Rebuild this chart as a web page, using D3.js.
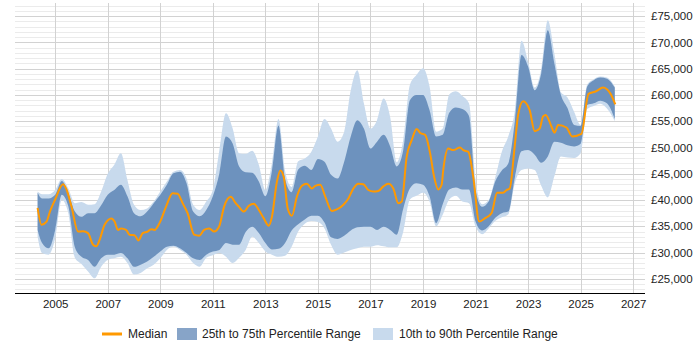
<!DOCTYPE html>
<head>
  <meta charset="UTF-8" />
  <script src="https://d3js.org/d3.v7.min.js"></script>
  <style>
    body {
      margin: 0;
      background: #fff;
    }
    text {
      font-family: "Liberation Sans", Arial, sans-serif;
      fill: #222;
    }
  </style>
</head>

<body>
  <script>
    var width = 700,
      height = 350;

    // band dates (decimal years), values in £k
    var bandYears = [
      2004.33, 2004.5, 2004.75, 2005, 2005.25, 2005.5, 2005.75, 2006, 2006.25, 2006.5, 2006.75,
      2007, 2007.25, 2007.5, 2007.75, 2008, 2008.25, 2008.5, 2008.75, 2009, 2009.25, 2009.5, 2009.75,
      2010, 2010.25, 2010.5, 2010.75, 2011, 2011.25, 2011.5, 2011.75, 2012, 2012.25, 2012.5, 2012.75,
      2013, 2013.25, 2013.5, 2013.75, 2014, 2014.25, 2014.5, 2014.75, 2015, 2015.25, 2015.5, 2015.75,
      2016, 2016.25, 2016.5, 2016.75, 2017, 2017.25, 2017.5, 2017.75, 2018, 2018.25, 2018.5, 2018.75,
      2019, 2019.25, 2019.5, 2019.75, 2020, 2020.25, 2020.5, 2020.75, 2021, 2021.25, 2021.5, 2021.75,
      2022, 2022.25, 2022.5, 2022.75, 2023, 2023.25, 2023.5, 2023.75, 2024, 2024.25, 2024.5, 2024.75,
      2025, 2025.25, 2025.5, 2025.75, 2026, 2026.3
    ];
    var p10 = [
      33.0, 29.9, 29.6, 32.7, 40.0, 37.5, 29.0, 27.8, 26.4, 25.1, 27.3,
      28.6, 28.9, 29.2, 28.0, 25.8, 26.1, 27.0, 27.7, 28.9, 30.5, 31.1, 30.5,
      29.6, 28.0, 27.3, 29.0, 29.5, 29.9, 29.2, 28.0, 29.0, 30.5, 33.0, 31.8,
      30.2, 29.6, 29.2, 29.4, 31.1, 34.0, 35.5, 36.0, 35.8, 34.6, 31.5, 29.6,
      30.0, 30.5, 30.8, 31.1, 31.1, 31.4, 31.2, 31.0, 31.0, 34.0, 40.1, 40.8,
      41.4, 39.7, 35.0, 37.2, 40.1, 40.8, 39.7, 39.4, 35.0, 33.5, 34.6, 36.0,
      36.7, 37.3, 43.3, 45.7, 46.0, 45.7, 42.7, 40.5, 44.5, 48.3, 48.1, 48.0,
      48.9, 57.3, 57.9, 58.3, 57.4, 55.0
    ];
    var p25 = [
      34.3, 31.8, 30.8, 34.3, 41.0, 38.8, 31.0, 29.2, 28.6, 27.3, 28.9,
      29.6, 29.6, 29.9, 28.9, 27.3, 27.7, 28.3, 29.2, 30.2, 31.1, 31.3, 30.8,
      29.9, 28.9, 28.6, 29.6, 30.2, 30.5, 31.8, 31.5, 31.5, 33.9, 34.9, 33.7,
      31.8, 30.6, 30.7, 31.8, 34.2, 35.4, 36.3, 37.0, 37.0, 35.7, 32.9, 32.6,
      33.2, 34.2, 34.8, 34.9, 34.9, 34.3, 34.9, 34.3, 33.4, 38.4, 42.2, 43.2,
      42.9, 40.7, 35.6, 39.2, 42.0, 42.4, 42.0, 42.0, 35.9, 34.2, 35.0, 36.6,
      37.5, 37.8, 44.4, 49.3, 49.5, 48.6, 47.1, 48.3, 51.1, 50.9, 50.4, 50.2,
      50.7, 58.1, 58.4, 58.9, 58.4, 55.4
    ];
    var p75 = [
      41.4, 40.3, 40.3, 41.0, 43.6, 41.3, 37.8, 36.8, 37.5, 37.5, 39.0,
      41.0, 41.9, 42.9, 40.7, 37.5, 36.9, 37.8, 39.4, 41.0, 42.9, 45.1, 45.4,
      43.2, 37.8, 36.9, 38.1, 40.7, 45.1, 52.1, 50.8, 46.4, 45.3, 45.2, 43.5,
      40.7, 45.5, 54.2, 44.0, 41.5, 45.8, 46.5, 45.7, 47.8, 47.3, 44.8, 44.1,
      47.3, 52.1, 55.2, 53.6, 49.8, 51.1, 52.4, 50.2, 46.4, 49.5, 59.0, 60.0,
      60.0, 57.1, 52.1, 52.4, 56.6, 57.6, 57.3, 56.0, 41.9, 38.7, 39.7, 43.5,
      45.6, 47.0, 55.2, 67.6, 65.4, 60.9, 64.1, 72.3, 66.0, 60.0, 57.5, 54.3,
      54.1, 61.6, 62.8, 63.3, 63.1, 61.4
    ];
    var p90 = [
      41.6, 41.1, 41.1, 41.9, 44.0, 42.2, 39.4, 39.6, 39.1, 39.2, 41.6,
      45.0, 46.7, 48.9, 43.8, 39.1, 38.1, 38.4, 39.7, 41.6, 43.5, 45.4, 45.7,
      44.1, 39.1, 38.1, 39.7, 41.9, 49.5, 56.5, 53.7, 48.9, 48.8, 49.4, 46.7,
      41.9, 47.0, 55.4, 45.5, 42.5, 47.4, 47.9, 49.2, 52.1, 55.4, 53.6, 51.1,
      53.0, 60.9, 64.7, 58.4, 53.6, 55.2, 59.3, 55.8, 47.2, 51.5, 61.9, 63.8,
      65.1, 61.6, 53.0, 53.6, 60.1, 60.7, 59.8, 58.4, 43.8, 39.2, 40.0, 44.3,
      49.2, 52.2, 57.1, 70.3, 66.3, 61.4, 64.9, 74.2, 67.9, 60.5, 59.5, 56.8,
      54.3, 62.0, 63.0, 63.5, 63.3, 61.6
    ];

    // median line, own dates
    var medianYears = [
      2004.33, 2004.48, 2004.67, 2004.8, 2004.99, 2005.3, 2005.43, 2005.62, 2005.87, 2006.06,
      2006.25, 2006.44, 2006.57, 2006.69, 2006.88, 2007.14, 2007.26, 2007.39, 2007.51, 2007.7,
      2007.83, 2008.02, 2008.17, 2008.33, 2008.52, 2008.65, 2008.78, 2008.97, 2009.22, 2009.47,
      2009.66, 2009.85, 2010.04, 2010.29, 2010.48, 2010.67, 2010.86, 2011.05, 2011.24, 2011.43,
      2011.68, 2011.87, 2011.99, 2012.18, 2012.37, 2012.56, 2012.75, 2012.94, 2013.13, 2013.25,
      2013.44, 2013.57, 2013.7, 2013.85, 2014.01, 2014.2, 2014.39, 2014.58, 2014.77, 2014.9,
      2015.09, 2015.28, 2015.53, 2015.72, 2015.97, 2016.16, 2016.35, 2016.54, 2016.73, 2016.92,
      2017.11, 2017.3, 2017.49, 2017.68, 2017.87, 2018.06, 2018.19, 2018.38, 2018.57, 2018.76,
      2018.91, 2019.08, 2019.27, 2019.42, 2019.58, 2019.71, 2019.77, 2019.96, 2020.15, 2020.41,
      2020.53, 2020.72, 2020.91, 2021.14, 2021.35, 2021.61, 2021.82, 2022.05, 2022.18, 2022.3,
      2022.49, 2022.62, 2022.81, 2023.06, 2023.25, 2023.44, 2023.57, 2023.67, 2023.89, 2024.01,
      2024.14, 2024.46, 2024.68, 2025.03, 2025.3, 2025.59, 2025.85, 2026.14, 2026.32
    ];
    var median = [
      38.5, 35.3, 35.9, 37.8, 40.0, 43.0, 42.0, 38.75, 34.0, 34.05,
      33.7, 31.5, 31.2, 32.4, 35.3, 36.5, 35.9, 34.3, 34.6, 34.3,
      33.4, 33.3, 32.3, 33.7, 34.0, 34.45, 34.3, 35.6, 38.75, 41.3,
      41.2, 39.4, 37.5, 33.4, 33.2, 34.3, 34.6, 34.0, 34.95, 38.75,
      40.6, 39.4, 38.75, 37.8, 38.9, 39.3, 38.1, 36.5, 35.1, 36.8,
      43.5, 45.6, 44.4, 38.4, 37.0, 40.65, 42.7, 43.1, 42.2, 42.7,
      42.9, 40.65, 37.9, 38.2, 39.1, 40.3, 42.2, 43.1, 43.0, 41.9,
      41.6, 41.7, 42.6, 43.1, 42.2, 39.4, 39.7, 48.3, 51.4, 53.5,
      52.7, 52.4, 48.9, 44.5, 42.0, 42.9, 45.7, 49.8, 49.5, 50.0,
      49.5, 49.2, 44.5, 35.9, 36.5, 37.5, 41.4, 41.4, 41.9, 42.2,
      50.2, 56.2, 58.8, 57.1, 53.1, 53.6, 55.9, 56.2, 54.0, 52.8,
      54.3, 53.8, 52.1, 52.6, 60.2, 60.7, 61.4, 60.2, 58.2
    ];

    var xTicks = [2005, 2007, 2009, 2011, 2013, 2015, 2017, 2019, 2021, 2023, 2025, 2027];

    var svg = d3
      .select("body")
      .append("svg")
      .attr("width", width)
      .attr("height", height);

    var x = d3.scaleLinear().domain([2003.47, 2027.45]).range([15, 645]);
    var y = d3.scaleLinear().domain([22300, 77500]).range([293, 3]);

    // grid
    var grid = svg.append("g");
    grid
      .selectAll("line.minor")
      .data(d3.range(23000, 77001, 1000))
      .enter()
      .append("line")
      .attr("x1", 15)
      .attr("x2", 645)
      .attr("y1", (d) => Math.round(y(d)) + 0.5)
      .attr("y2", (d) => Math.round(y(d)) + 0.5)
      .style("stroke", (d) => (d % 5000 == 0 ? "#d2d2d2" : "#ebebeb"))
      .style("stroke-width", 1);

    grid
      .selectAll("line.vert")
      .data(xTicks)
      .enter()
      .append("line")
      .attr("x1", (d) => Math.round(x(d)) + 0.5)
      .attr("x2", (d) => Math.round(x(d)) + 0.5)
      .attr("y1", 3)
      .attr("y2", 293)
      .style("stroke", "#d2d2d2");

    var bandData = bandYears.map(function (yr, i) {
      return { yr: yr, p10: p10[i], p25: p25[i], p75: p75[i], p90: p90[i] };
    });

    var outer = d3
      .area()
      .curve(d3.curveMonotoneX)
      .x((d) => x(d.yr))
      .y0((d) => y(d.p10 * 1000))
      .y1((d) => y(d.p90 * 1000));

    var inner = d3
      .area()
      .curve(d3.curveMonotoneX)
      .x((d) => x(d.yr))
      .y0((d) => y(d.p25 * 1000))
      .y1((d) => y(d.p75 * 1000));

    svg.append("path").datum(bandData).attr("d", outer).style("fill", "#c8daed");
    svg
      .append("path")
      .datum(bandData)
      .attr("d", inner)
      .style("fill", "#4673aa")
      .style("fill-opacity", 0.7);

    var medLine = d3
      .line()
      .curve(d3.curveMonotoneX)
      .x((d, i) => x(medianYears[i]))
      .y((d) => y(d * 1000));

    svg
      .append("path")
      .datum(median)
      .attr("d", medLine)
      .style("fill", "none")
      .style("stroke", "#ff9900")
      .style("stroke-width", 2);

    // bottom axis
    var xAxis = d3
      .axisBottom(x)
      .tickValues(xTicks)
      .tickFormat(d3.format("d"))
      .tickSize(0)
      .tickPadding(7);
    var gx = svg.append("g").attr("transform", "translate(0,293)").call(xAxis);
    gx.select(".domain").style("stroke", "#000").attr("d", "M15,0.5H645");
    gx.selectAll("text").style("font-size", "11.5px").style("fill", "#222");

    // right axis labels
    var yAxis = d3
      .axisRight(y)
      .tickValues(d3.range(25000, 75001, 5000))
      .tickFormat((d) => "£" + d3.format(",")(d))
      .tickSize(0)
      .tickPadding(6);
    var gy = svg.append("g").attr("transform", "translate(645,0)").call(yAxis);
    gy.select(".domain").remove();
    gy.selectAll("text").style("font-size", "11.5px").style("fill", "#222");

    // legend
    var leg = svg.append("g").attr("transform", "translate(0,334)");
    leg
      .append("line")
      .attr("x1", 102)
      .attr("x2", 122)
      .style("stroke", "#ff9900")
      .style("stroke-width", 3);
    leg.append("text").attr("x", 128).attr("dy", "0.35em").style("font-size", "12px").text("Median");
    leg
      .append("rect")
      .attr("x", 177)
      .attr("y", -6)
      .attr("width", 20)
      .attr("height", 12)
      .style("fill", "#4673aa")
      .style("fill-opacity", 0.65);
    leg
      .append("text")
      .attr("x", 202)
      .attr("dy", "0.35em")
      .style("font-size", "12px")
      .text("25th to 75th Percentile Range");
    leg
      .append("rect")
      .attr("x", 373)
      .attr("y", -6)
      .attr("width", 20)
      .attr("height", 12)
      .style("fill", "#c8daed");
    leg
      .append("text")
      .attr("x", 399)
      .attr("dy", "0.35em")
      .style("font-size", "12px")
      .text("10th to 90th Percentile Range");
  </script>
</body>
